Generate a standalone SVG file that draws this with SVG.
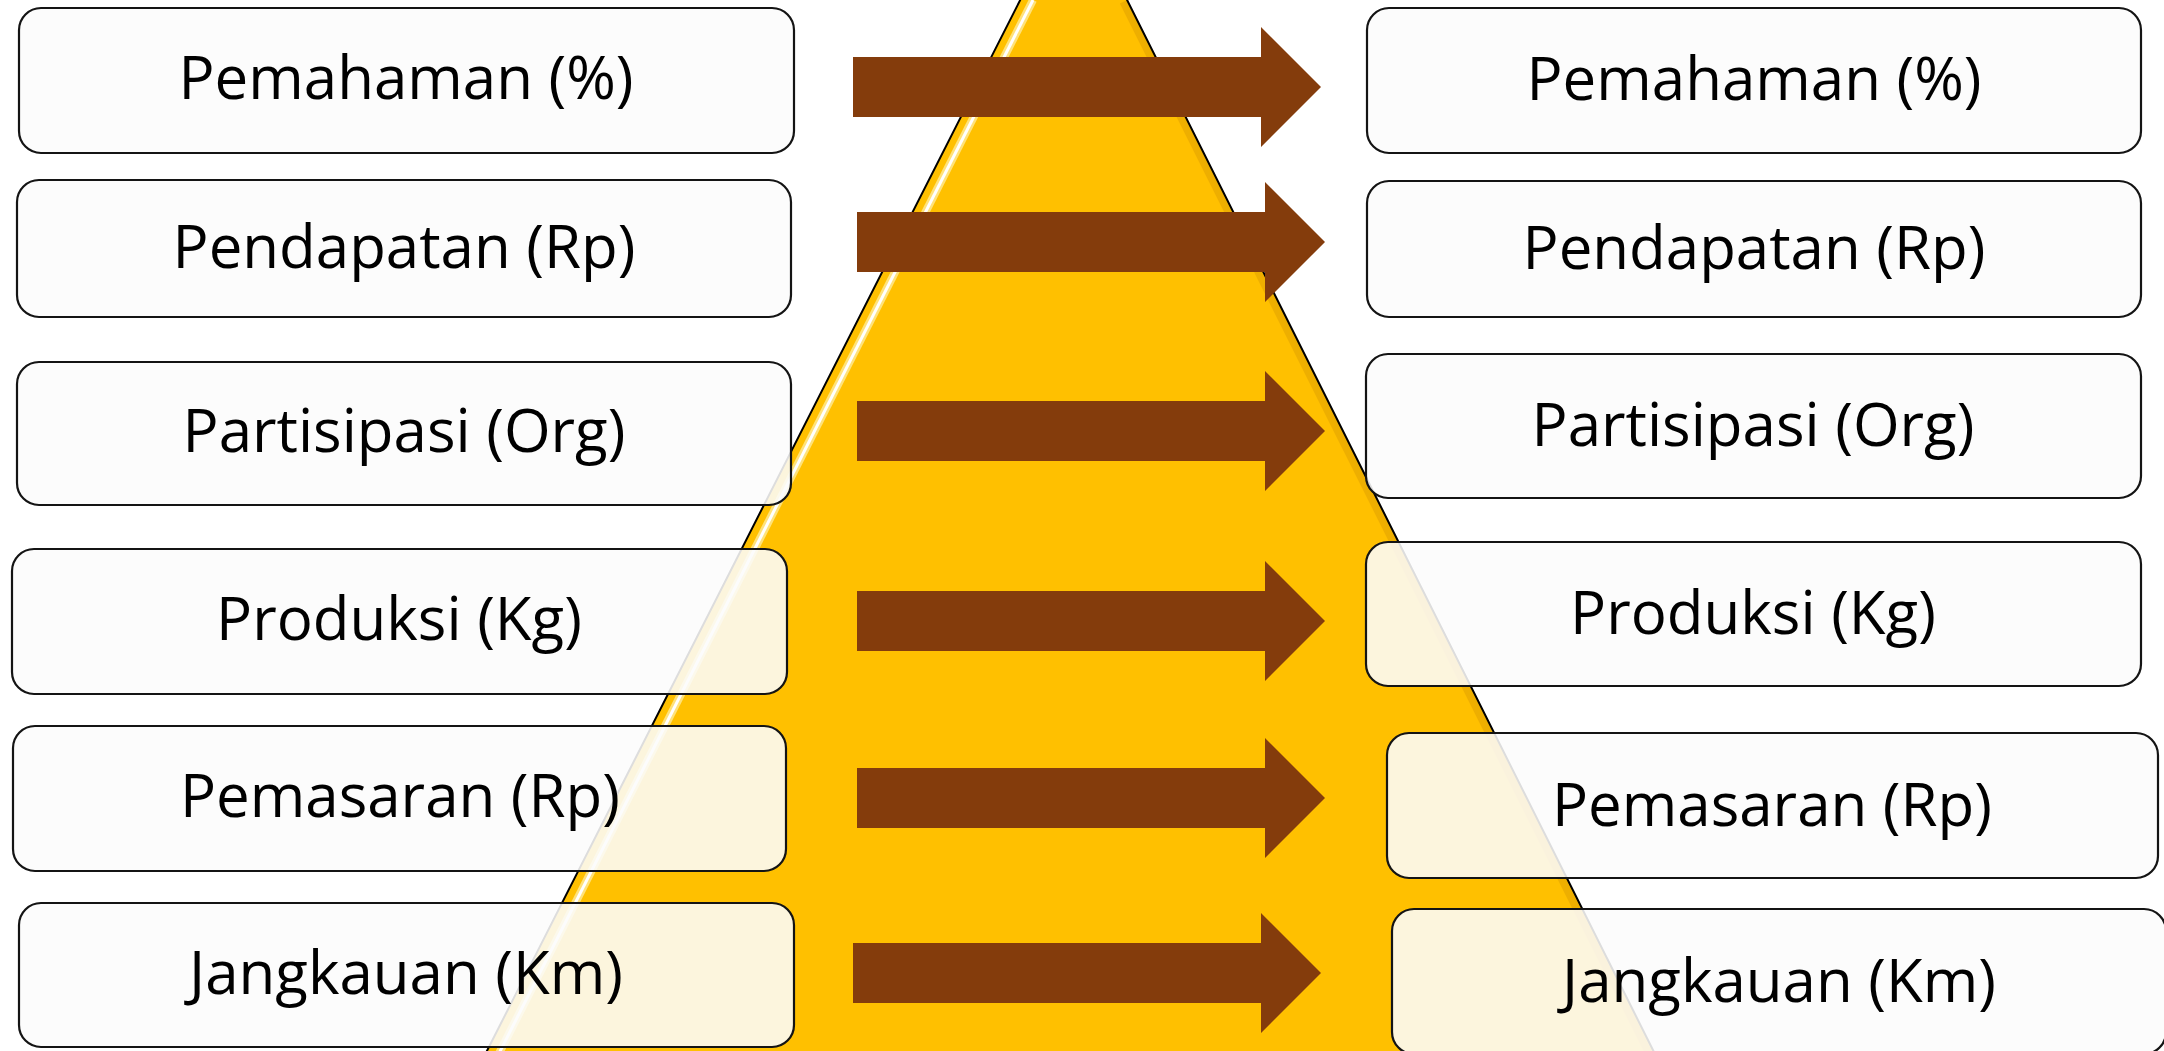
<svg xmlns="http://www.w3.org/2000/svg" width="2164" height="1051" viewBox="0 0 2164 1051">
  <defs>
    <style>
      .box { fill: #FCFCFC; fill-opacity: 0.88; stroke: #141414; stroke-width: 2.2; }
      .lbl { font-family: "Open Sans", "Liberation Sans", sans-serif; font-size: 60px; fill: #000; text-anchor: middle; }
      .arrow { fill: #843C0C; }
    </style>
    <clipPath id="triClip">
      <polygon points="1074,-106 460,1104 1680,1104"/>
    </clipPath>
    <path id="arr" d="M0,-30 H408 V-60 L468,0 L408,60 V30 H0 Z"/>
  </defs>
  <rect width="2164" height="1051" fill="#FFFFFF"/>

  <g id="pyramid">
    <polygon points="1074,-106 460,1104 1680,1104" fill="#FFC000"/>
    <g clip-path="url(#triClip)">
      <line x1="1127" y1="0" x2="1680" y2="1106" stroke="#E0A000" stroke-width="16" stroke-opacity="0.55"/>
      <line x1="1033" y1="0" x2="484" y2="1083" stroke="#FFE27A" stroke-width="8"/>
      <line x1="1033" y1="0" x2="484" y2="1083" stroke="#FFFFFF" stroke-width="3"/>
    </g>
    <polygon points="1074,-106 460,1104 1680,1104" fill="none" stroke="#000" stroke-width="2"/>
  </g>

  <g id="connectors">
    <use href="#arr" class="arrow" transform="translate(853,87)"/>
    <use href="#arr" class="arrow" transform="translate(857,242)"/>
    <use href="#arr" class="arrow" transform="translate(857,431)"/>
    <use href="#arr" class="arrow" transform="translate(857,621)"/>
    <use href="#arr" class="arrow" transform="translate(857,798)"/>
    <use href="#arr" class="arrow" transform="translate(853,973)"/>
  </g>

  <g id="left-pemahaman">
    <rect class="box" x="19" y="8" width="775" height="145" rx="22"/>
    <text class="lbl" x="406" y="99">Pemahaman (%)</text>
  </g>
  <g id="left-pendapatan">
    <rect class="box" x="17" y="180" width="774" height="137" rx="22"/>
    <text class="lbl" x="404" y="268">Pendapatan (Rp)</text>
  </g>
  <g id="left-partisipasi">
    <rect class="box" x="17" y="362" width="774" height="143" rx="22"/>
    <text class="lbl" x="404" y="452">Partisipasi (Org)</text>
  </g>
  <g id="left-produksi">
    <rect class="box" x="12" y="549" width="775" height="145" rx="22"/>
    <text class="lbl" x="399" y="640">Produksi (Kg)</text>
  </g>
  <g id="left-pemasaran">
    <rect class="box" x="13" y="726" width="773" height="145" rx="22"/>
    <text class="lbl" x="400" y="817">Pemasaran (Rp)</text>
  </g>
  <g id="left-jangkauan">
    <rect class="box" x="19" y="903" width="775" height="144" rx="22"/>
    <text class="lbl" x="406" y="994">Jangkauan (Km)</text>
  </g>

  <g id="right-pemahaman">
    <rect class="box" x="1367" y="8" width="774" height="145" rx="22"/>
    <text class="lbl" x="1754" y="100">Pemahaman (%)</text>
  </g>
  <g id="right-pendapatan">
    <rect class="box" x="1367" y="181" width="774" height="136" rx="22"/>
    <text class="lbl" x="1754" y="269">Pendapatan (Rp)</text>
  </g>
  <g id="right-partisipasi">
    <rect class="box" x="1366" y="354" width="775" height="144" rx="22"/>
    <text class="lbl" x="1753" y="446">Partisipasi (Org)</text>
  </g>
  <g id="right-produksi">
    <rect class="box" x="1366" y="542" width="775" height="144" rx="22"/>
    <text class="lbl" x="1753" y="634">Produksi (Kg)</text>
  </g>
  <g id="right-pemasaran">
    <rect class="box" x="1387" y="733" width="771" height="145" rx="22"/>
    <text class="lbl" x="1772" y="826">Pemasaran (Rp)</text>
  </g>
  <g id="right-jangkauan">
    <rect class="box" x="1392" y="909" width="774" height="145" rx="22"/>
    <text class="lbl" x="1779" y="1002">Jangkauan (Km)</text>
  </g>
</svg>
